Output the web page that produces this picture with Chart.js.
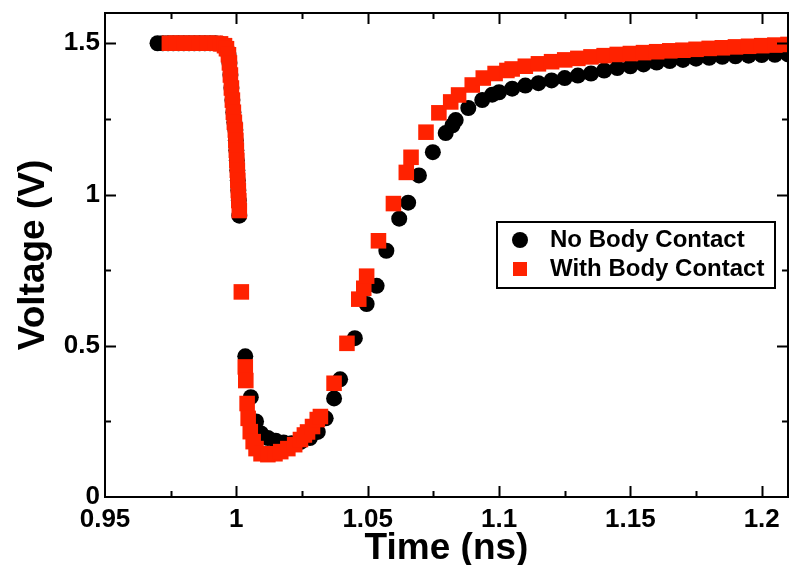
<!DOCTYPE html>
<html>
<head>
<meta charset="utf-8">
<script src="https://cdn.jsdelivr.net/npm/chart.js@4"></script>
<style>
  body { margin: 0; background: #fff; }
  canvas { display: block; }
</style>
</head>
<body>
<canvas id="voltage-chart" width="799" height="565"></canvas>
<script>
// No Body Contact (black circles)
const blackTime = [
  0.970, 0.972, 0.974, 0.976, 0.978, 0.980, 0.982, 0.984, 0.986, 0.988, 0.990, 0.992,
  0.99398, 0.99549, 0.99624, 0.99699, 0.99737, 0.99774, 0.99812, 0.9985, 0.99887, 0.99925,
  0.99962, 0.99981, 1.0, 1.00019, 1.00038, 1.00056, 1.00075, 1.00094, 1.00113,
  1.0034, 1.0055, 1.0075, 1.0094, 1.012, 1.015, 1.018, 1.021, 1.0245, 1.028, 1.031, 1.034,
  1.0372, 1.0395, 1.0451, 1.0496, 1.0534, 1.0571, 1.062, 1.0654, 1.0695, 1.0748, 1.0797,
  1.0823, 1.0835, 1.0883, 1.0936, 1.0974,
  1.100, 1.105, 1.110, 1.115, 1.120, 1.125, 1.130, 1.135, 1.140, 1.145, 1.150, 1.155,
  1.160, 1.165, 1.170, 1.175, 1.180, 1.185, 1.190, 1.195, 1.200, 1.205, 1.210
];
const blackVolt = [
  1.5, 1.5, 1.5, 1.5, 1.5, 1.5, 1.5, 1.5, 1.5, 1.5, 1.5, 1.5,
  1.498, 1.492, 1.482, 1.462, 1.435, 1.395, 1.352, 1.312, 1.272, 1.239,
  1.213, 1.179, 1.146, 1.113, 1.08, 1.047, 1.013, 0.98, 0.93,
  0.465, 0.33, 0.25, 0.21, 0.195, 0.186, 0.18, 0.178, 0.182, 0.195, 0.215, 0.26,
  0.326, 0.389, 0.525, 0.638, 0.698, 0.814, 0.92, 0.973, 1.063, 1.14, 1.203,
  1.229, 1.246, 1.286, 1.312, 1.33,
  1.338, 1.35, 1.36, 1.368, 1.377, 1.385, 1.393, 1.40, 1.41, 1.418, 1.424, 1.43,
  1.436, 1.441, 1.445, 1.449, 1.452, 1.455, 1.457, 1.459, 1.461, 1.462, 1.463
];

// With Body Contact (red squares)
const redTime = [
  0.9745, 0.977, 0.980, 0.983, 0.986, 0.989, 0.992,
  0.99398, 0.99549, 0.99624, 0.99699, 0.99737, 0.99774, 0.99812, 0.9985, 0.99887, 0.99925,
  0.99962, 0.99981, 1.0, 1.00019, 1.00038, 1.00056, 1.00075, 1.00094, 1.00113,
  1.0019, 1.0034, 1.0036, 1.0041, 1.0045, 1.0053, 1.0064, 1.0075, 1.0094, 1.012, 1.0147,
  1.0169, 1.0196, 1.0222, 1.0244, 1.0259, 1.0271, 1.029, 1.0308, 1.032, 1.0372, 1.0421,
  1.0466, 1.0485, 1.0496, 1.0541, 1.0598, 1.0647, 1.0665, 1.0722, 1.0771, 1.0816, 1.0846,
  1.0898, 1.094, 1.0985, 1.103,
  1.105, 1.110, 1.115, 1.120, 1.125, 1.130, 1.135, 1.140, 1.145, 1.150, 1.155, 1.160,
  1.165, 1.170, 1.175, 1.180, 1.185, 1.190, 1.195, 1.200, 1.205, 1.210
];
const redVolt = [
  1.5, 1.5, 1.5, 1.5, 1.5, 1.5, 1.5,
  1.498, 1.492, 1.482, 1.462, 1.435, 1.395, 1.352, 1.312, 1.272, 1.239,
  1.213, 1.179, 1.146, 1.113, 1.08, 1.047, 1.013, 0.98, 0.947,
  0.678, 0.43, 0.385, 0.309, 0.26, 0.216, 0.183, 0.16, 0.143, 0.14, 0.143,
  0.15, 0.16, 0.173, 0.19, 0.205, 0.215, 0.233, 0.256, 0.266, 0.376, 0.508,
  0.654, 0.69, 0.73, 0.847, 0.97, 1.073, 1.123, 1.206, 1.27, 1.306, 1.329,
  1.362, 1.385, 1.40, 1.41,
  1.415, 1.424, 1.432, 1.439, 1.445, 1.45, 1.455, 1.459, 1.463, 1.466, 1.469, 1.472,
  1.475, 1.477, 1.48, 1.483, 1.485, 1.488, 1.49, 1.492, 1.494, 1.496
];

const xTicks = [0.95, 1.0, 1.05, 1.1, 1.15, 1.2];
const xTickLabels = ["0.95", "1", "1.05", "1.1", "1.15", "1.2"];
const yTicks = [0, 0.5, 1, 1.5];
const yTickLabels = ["0", "0.5", "1", "1.5"];

const FONT = "'Liberation Sans', Arial, Helvetica, sans-serif";

function toPoints(xs, ys) {
  return xs.map((x, i) => ({ x: x, y: ys[i] }));
}

// frame, inward ticks on all four sides, and the boxed legend
const framePlugin = {
  id: "frame",
  afterDraw(chart) {
    const ctx = chart.ctx;
    const a = chart.chartArea;
    const xs = chart.scales.x;
    const ys = chart.scales.y;
    ctx.save();
    ctx.strokeStyle = "#000";
    ctx.lineWidth = 2;
    ctx.strokeRect(a.left, a.top, a.right - a.left, a.bottom - a.top);

    ctx.beginPath();
    for (let v = 0.95; v < 1.215; v += 0.025) {
      const major = Math.abs(Math.round(v / 0.05) * 0.05 - v) < 1e-6;
      const len = major ? 11 : 6;
      const px = Math.round(xs.getPixelForValue(v)) + 0.5;
      if (px <= a.left + 1 || px >= a.right - 1) continue;
      ctx.moveTo(px, a.bottom); ctx.lineTo(px, a.bottom - len);
      ctx.moveTo(px, a.top); ctx.lineTo(px, a.top + len);
    }
    for (let v = 0; v < 1.6; v += 0.25) {
      const major = Math.abs(Math.round(v / 0.5) * 0.5 - v) < 1e-6;
      const len = major ? 11 : 6;
      const py = Math.round(ys.getPixelForValue(v)) + 0.5;
      if (py >= a.bottom - 1 || py <= a.top + 1) continue;
      ctx.moveTo(a.left, py); ctx.lineTo(a.left + len, py);
      ctx.moveTo(a.right, py); ctx.lineTo(a.right - len, py);
    }
    ctx.lineWidth = 2;
    ctx.stroke();

    // legend
    const lx = 497, ly = 222, lw = 278, lh = 66;
    ctx.fillStyle = "#fff";
    ctx.fillRect(lx, ly, lw, lh);
    ctx.strokeRect(lx, ly, lw, lh);
    const sets = chart.data.datasets;
    const rows = [240, 269];
    sets.forEach((ds, i) => {
      const cy = rows[i];
      ctx.fillStyle = ds.backgroundColor;
      if (ds.pointStyle === "rect") {
        ctx.fillRect(520 - 7, cy - 7, 14, 14);
      } else {
        ctx.beginPath();
        ctx.arc(520, cy, 8, 0, Math.PI * 2);
        ctx.fill();
      }
      ctx.fillStyle = "#000";
      ctx.font = "bold 24px " + FONT;
      ctx.textBaseline = "middle";
      ctx.textAlign = "left";
      ctx.fillText(ds.label, 550, cy);
    });
    ctx.restore();
  }
};

const config = {
  type: "scatter",
  data: {
    datasets: [
      {
        label: "No Body Contact",
        data: toPoints(blackTime, blackVolt),
        backgroundColor: "#000000",
        pointStyle: "circle",
        pointRadius: 8,
        pointBorderWidth: 0,
        order: 2
      },
      {
        label: "With Body Contact",
        data: toPoints(redTime, redVolt),
        backgroundColor: "#ff2200",
        pointStyle: "rect",
        pointRadius: 11,
        pointBorderWidth: 0,
        order: 1
      }
    ]
  },
  options: {
    responsive: false,
    animation: false,
    devicePixelRatio: 1,
    layout: { padding: { top: 13, right: 2, left: 0, bottom: 0 } },
    plugins: {
      legend: { display: false },
      tooltip: { enabled: false }
    },
    scales: {
      x: {
        type: "linear",
        min: 0.95,
        max: 1.21,
        grid: { display: false, drawTicks: false },
        border: { display: false },
        afterBuildTicks: (s) => { s.ticks = xTicks.map((v) => ({ value: v })); },
        afterFit: (s) => { s.height = 68; s.paddingLeft = 0; s.paddingRight = 0; },
        ticks: {
          autoSkip: false,
          maxRotation: 0,
          padding: 10,
          color: "#000",
          font: { family: FONT, size: 26, weight: "bold", lineHeight: 1 },
          callback: (v) => xTickLabels[xTicks.findIndex((t) => Math.abs(t - v) < 1e-9)]
        },
        title: {
          display: true,
          text: "Time (ns)",
          color: "#000",
          padding: 0,
          font: { family: FONT, size: 37, weight: "bold", lineHeight: 0.85 }
        }
      },
      y: {
        type: "linear",
        min: 0,
        max: 1.6,
        grid: { display: false, drawTicks: false },
        border: { display: false },
        afterBuildTicks: (s) => { s.ticks = yTicks.map((v) => ({ value: v })); },
        afterFit: (s) => { s.width = 105; s.paddingTop = 0; s.paddingBottom = 0; },
        ticks: {
          autoSkip: false,
          padding: 5,
          color: "#000",
          font: { family: FONT, size: 26, weight: "bold", lineHeight: 1 },
          callback: (v) => yTickLabels[yTicks.findIndex((t) => Math.abs(t - v) < 1e-9)]
        },
        title: {
          display: true,
          text: "Voltage (V)",
          color: "#000",
          padding: { top: 15, bottom: 0 },
          font: { family: FONT, size: 37, weight: "bold", lineHeight: 1 }
        }
      }
    }
  },
  plugins: [framePlugin]
};

const ctx = document.getElementById("voltage-chart");
const voltageChart = new Chart(ctx, config);
</script>
</body>
</html>
